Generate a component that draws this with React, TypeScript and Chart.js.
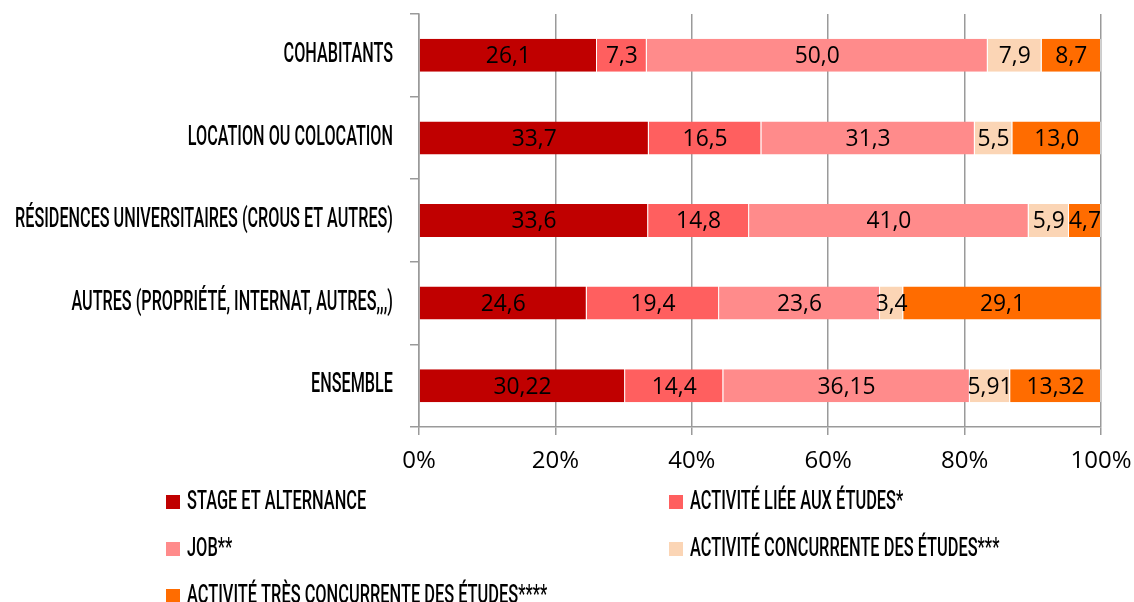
import React, { useEffect, useRef } from "react";
import { Chart, registerables } from "chart.js";

Chart.register(...registerables);

const categories = [
  "COHABITANTS",
  "LOCATION OU COLOCATION",
  "RÉSIDENCES UNIVERSITAIRES (CROUS ET AUTRES)",
  "AUTRES (PROPRIÉTÉ, INTERNAT, AUTRES,,,)",
  "ENSEMBLE",
];

const stageAlternance = [26.1, 33.7, 33.6, 24.6, 30.22];
const activiteLiee = [7.3, 16.5, 14.8, 19.4, 14.4];
const job = [50.0, 31.3, 41.0, 23.6, 36.15];
const concurrente = [7.9, 5.5, 5.9, 3.4, 5.91];
const tresConcurrente = [8.7, 13.0, 4.7, 29.1, 13.32];

const seriesNames = [
  "STAGE ET ALTERNANCE",
  "ACTIVITÉ LIÉE AUX ÉTUDES*",
  "JOB**",
  "ACTIVITÉ CONCURRENTE DES ÉTUDES***",
  "ACTIVITÉ TRÈS CONCURRENTE DES ÉTUDES****",
];
const seriesColors = ["#C00000", "#FF5F5F", "#FF8B8B", "#FBD5B5", "#FF6C00"];

const xTicks = [0, 20, 40, 60, 80, 100];

const GRID = "#9a9a9a";
const CONDENSED_FONT = "500 27px Roboto, 'DejaVu Sans', sans-serif";
const CONDENSED_SCALE = 0.6;
const LEGEND_FONT = "500 26px Roboto, 'DejaVu Sans', sans-serif";
const LEGEND_SCALE = 0.63;

function fmt(v: number): string {
  const s = Number.isInteger(v) ? v.toFixed(1) : String(v);
  return s.replace(".", ",");
}

function drawCondensed(
  ctx: CanvasRenderingContext2D,
  text: string,
  x: number,
  y: number,
  font: string,
  scale: number,
  align: CanvasTextAlign
) {
  ctx.save();
  ctx.font = font;
  ctx.textBaseline = "middle";
  ctx.textAlign = align;
  ctx.fillStyle = "#000";
  ctx.translate(x, y);
  ctx.scale(scale, 1);
  ctx.fillText(text, 0, 0);
  ctx.restore();
}

const customPlugin = {
  id: "customDraw",
  afterDatasetsDraw(chart: any) {
    const ctx = chart.ctx as CanvasRenderingContext2D;
    chart.data.datasets.forEach((ds: any, di: number) => {
      const meta = chart.getDatasetMeta(di);
      meta.data.forEach((bar: any, i: number) => {
        const v = ds.data[i];
        const cx = (bar.x + bar.base) / 2;
        ctx.save();
        ctx.font = "24px 'Open Sans', sans-serif";
        ctx.fillStyle = "#000";
        ctx.textAlign = "center";
        ctx.textBaseline = "middle";
        ctx.translate(cx, bar.y + 1);
        ctx.scale(0.95, 1);
        ctx.fillText(fmt(v), 0, 0);
        ctx.restore();
      });
    });
  },
  afterDraw(chart: any) {
    const ctx = chart.ctx as CanvasRenderingContext2D;
    const yScale = chart.scales.y;
    chart.data.labels.forEach((lab: string, i: number) => {
      const y = yScale.getPixelForValue(i);
      drawCondensed(ctx, lab, 393, y, CONDENSED_FONT, CONDENSED_SCALE, "right");
    });
    const cols = [166, 669];
    const rows = [501, 548, 595];
    chart.data.datasets.forEach((ds: any, i: number) => {
      const x = cols[i % 2];
      const y = rows[Math.floor(i / 2)];
      ctx.save();
      ctx.fillStyle = ds.backgroundColor;
      ctx.fillRect(x, y - 6, 14, 14);
      ctx.restore();
      drawCondensed(ctx, ds.label, x + 21, y + 1, LEGEND_FONT, LEGEND_SCALE, "left");
    });
  },
};

export default function App() {
  const canvasRef = useRef<HTMLCanvasElement | null>(null);

  useEffect(() => {
    document.body.style.margin = "0";
    const canvas = canvasRef.current;
    if (!canvas) return;
    const seriesData = [stageAlternance, activiteLiee, job, concurrente, tresConcurrente];
    const chart = new Chart(canvas, {
      type: "bar",
      data: {
        labels: categories,
        datasets: seriesData.map((d, i) => ({
          label: seriesNames[i],
          data: d,
          backgroundColor: seriesColors[i],
          borderColor: "rgba(255,255,255,0.55)",
          borderWidth: { left: 0, right: 1, top: 0, bottom: 0 },
          borderSkipped: false,
          categoryPercentage: 1,
          barPercentage: 0.4,
        })),
      },
      options: {
        indexAxis: "y",
        animation: false,
        responsive: false,
        maintainAspectRatio: false,
        layout: { padding: { top: 14, right: 33, left: 0, bottom: 0 } },
        plugins: {
          legend: { display: false },
          tooltip: { enabled: false },
          title: { display: false },
        },
        scales: {
          x: {
            stacked: true,
            min: 0,
            max: 100,
            afterBuildTicks(scale: any) {
              scale.ticks = xTicks.map((v) => ({ value: v }));
            },
            afterFit(scale: any) {
              scale.height = 175;
              scale.paddingRight = 0;
              scale.paddingLeft = 0;
            },
            ticks: {
              callback: (v: any) => v + "%",
              color: "#000",
              font: { family: "'Open Sans', sans-serif", size: 24 },
              padding: 12,
              maxRotation: 0,
            },
            grid: {
              color: GRID,
              lineWidth: 1.5,
              tickLength: 8,
              drawOnChartArea: true,
            },
            border: { display: true, color: GRID, width: 1.5 },
          },
          y: {
            stacked: true,
            offset: true,
            afterFit(scale: any) {
              scale.width = 419;
            },
            ticks: { display: false },
            grid: {
              offset: true,
              color: GRID,
              lineWidth: 1.5,
              tickLength: 9,
              drawOnChartArea: false,
              drawTicks: true,
            },
            border: { display: true, color: GRID, width: 1.5 },
          },
        },
      },
      plugins: [customPlugin],
    } as any);
    return () => chart.destroy();
  }, []);

  return (
    <div style={{ width: 1134, height: 602, position: "relative" }}>
      <canvas ref={canvasRef} width={1134} height={602} style={{ display: "block" }} />
    </div>
  );
}
